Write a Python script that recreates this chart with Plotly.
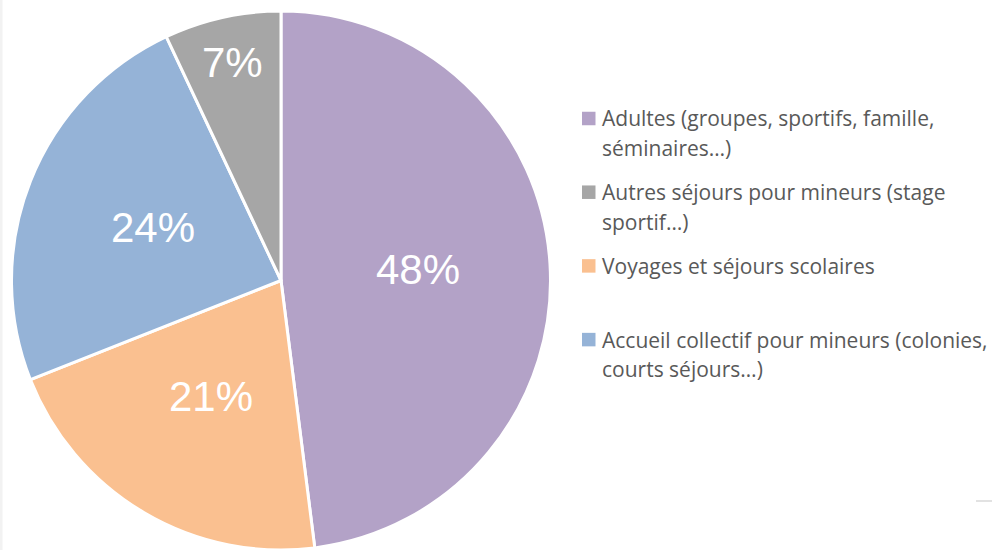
import math
import plotly.graph_objects as go

# ---- data (pie order, clockwise from 12 o'clock) ----
categories = [
    "Adultes (groupes, sportifs, famille, séminaires…)",
    "Voyages et séjours scolaires",
    "Accueil collectif pour mineurs (colonies, courts séjours…)",
    "Autres séjours pour mineurs (stage sportif…)",
]
values = [48, 21, 24, 7]
colors = ["#B3A2C7", "#FAC090", "#95B3D7", "#A6A6A6"]

# legend order and wrapped legend lines
legend_order = [0, 3, 1, 2]
legend_lines = [
    ["Adultes (groupes, sportifs, famille,", "séminaires…)"],
    ["Voyages et séjours scolaires", ""],
    ["Accueil collectif pour mineurs (colonies,", "courts séjours…)"],
    ["Autres séjours pour mineurs (stage", "sportif…)"],
]

W, H = 992, 550
TOP = 11
cx_px = 281.0
R = (H - TOP) / 2.0
cy_px = TOP + R

fig = go.Figure()
fig.add_trace(go.Pie(
    labels=categories,
    values=values,
    marker=dict(colors=colors, line=dict(color="white", width=3)),
    sort=False,
    direction="clockwise",
    rotation=0,
    textinfo="none",
    hoverinfo="label+percent",
    showlegend=False,
    domain=dict(x=[(cx_px - R) / W, (cx_px + R) / W], y=[0, 1]),
))

def px_to_paper(px, py):
    return px / W, (H - py) / (H - TOP)

annotations = []
shapes = []

# percentage labels, placed along each slice's mid-angle
total = float(sum(values))
cum = 0.0
for v in values:
    frac = v / total
    start = cum * 2 * math.pi
    cum += frac
    mid = start + frac * math.pi
    half = frac * math.pi
    s = math.sin(min(half, math.pi / 2))
    f_ins = s / (1 + s)
    rf = 0.51 if f_ins >= 0.3 else 1 - f_ins
    px = cx_px + rf * R * math.sin(mid)
    py = cy_px - rf * R * math.cos(mid)
    x, y = px_to_paper(px, py - 2)
    annotations.append(dict(
        x=x, y=y, xref="paper", yref="paper", showarrow=False,
        text=f"{round(frac * 100):d}%", xanchor="center", yanchor="middle",
        font=dict(family="Liberation Sans, Arial, sans-serif", size=42, color="white"),
    ))

# custom legend (squares + wrapped text)
leg_x_sq = 582
leg_sq = 13.5
leg_x_txt = 600
first_y = 118.5
item_step = 73.7
line_step = 29.5
for k, idx in enumerate(legend_order):
    yc = first_y + k * item_step
    x0, y0 = px_to_paper(leg_x_sq, yc + leg_sq / 2)
    x1, y1 = px_to_paper(leg_x_sq + leg_sq, yc - leg_sq / 2)
    shapes.append(dict(type="rect", xref="paper", yref="paper",
                       x0=x0, x1=x1, y0=y0, y1=y1,
                       fillcolor=colors[idx], line=dict(width=0)))
    for j, line in enumerate(legend_lines[idx]):
        if not line:
            continue
        tx, ty = px_to_paper(leg_x_txt, yc + j * line_step)
        annotations.append(dict(
            x=tx, y=ty, xref="paper", yref="paper", showarrow=False,
            text=line, xanchor="left", yanchor="middle",
            font=dict(family="Open Sans, Noto Sans, sans-serif", size=21, color="#595959"),
        ))

# thin light strip at the left edge and small rule at bottom right (frame remnants)
shapes.append(dict(type="rect", xref="paper", yref="paper",
                   x0=0, x1=2.5 / W, y0=0, y1=H / (H - TOP),
                   fillcolor="#F2F2F2", line=dict(width=0), layer="below"))
bx0, by = px_to_paper(976, 501)
bx1, _ = px_to_paper(992, 501)
shapes.append(dict(type="line", xref="paper", yref="paper",
                   x0=bx0, x1=bx1, y0=by, y1=by,
                   line=dict(color="#D9D9D9", width=1.5)))

fig.update_layout(
    width=W, height=H,
    margin=dict(l=0, r=0, t=TOP, b=0),
    paper_bgcolor="white",
    plot_bgcolor="white",
    annotations=annotations,
    shapes=shapes,
    showlegend=False,
)

fig.write_html(
    "out.html",
    config={"displayModeBar": False},
    post_script="document.body.style.margin='0';document.body.style.overflow='hidden';",
)
